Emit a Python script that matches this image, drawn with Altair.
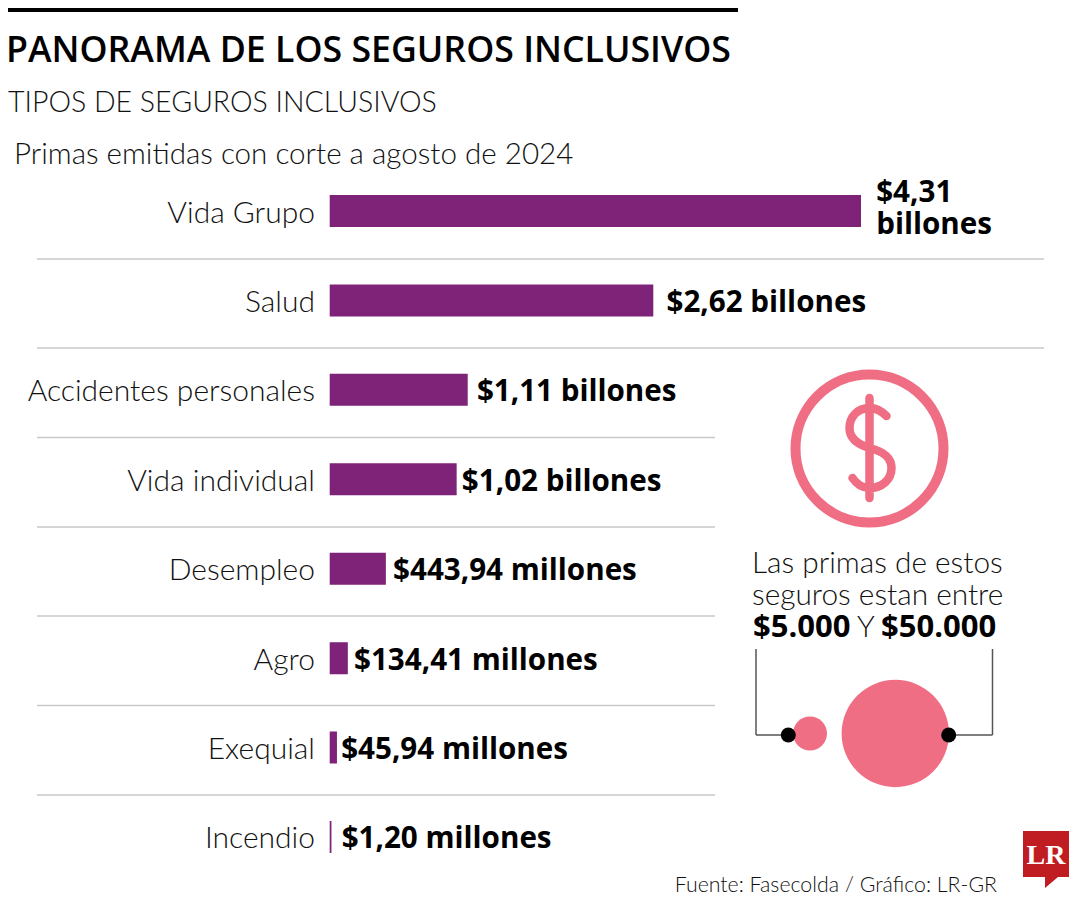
import altair as alt
import pandas as pd

CATEGORIES = ["Vida Grupo", "Salud", "Accidentes personales", "Vida individual",
              "Desempleo", "Agro", "Exequial", "Incendio"]
VALUES = [4.31, 2.62, 1.11, 1.02, 0.44394, 0.13441, 0.04594, 0.0012]  # billones
LABELS = ["$4,31\nbillones", "$2,62 billones", "$1,11 billones", "$1,02 billones",
          "$443,94 millones", "$134,41 millones", "$45,94 millones", "$1,20 millones"]
LABEL_GAPS = [16, 14, 10, 6, 8, 7, 5, 11]

PURPLE = "#7e2378"
PINK = "#ef6e84"
LIGHT = "Lato"
BOLD = "Open Sans"

df = pd.DataFrame({"cat": CATEGORIES, "val": VALUES, "label": LABELS, "gap": LABEL_GAPS})
blank = alt.Data(values=[{}])
OX = OY = 8  # page margin


def X(v):
    return alt.value(v - OX)


def Y(v):
    return alt.value(v - OY)


def txt(s, x, y, size, font=LIGHT, weight=300, align="left", color="#111111"):
    return alt.Chart(blank).mark_text(text=s, font=font, fontSize=size, fontWeight=weight,
                                      align=align, baseline="alphabetic", color=color).encode(x=X(x), y=Y(y))


def hline(x1, x2, y, color="#c9c9c9", w=1.5):
    return alt.Chart(blank).mark_rule(color=color, strokeWidth=w).encode(x=X(x1), x2=X(x2), y=Y(y))


def vline(x, y1, y2, color="#555555", w=1.5):
    return alt.Chart(blank).mark_rule(color=color, strokeWidth=w).encode(x=X(x), y=Y(y1), y2=Y(y2))


def dot(x, y, r, color):
    return alt.Chart(blank).mark_point(shape="circle", filled=True, opacity=1, color=color,
                                       strokeWidth=0, size=4 * r * r).encode(x=X(x), y=Y(y))


y_enc = alt.Y("cat:N", sort=CATEGORIES, axis=None,
              scale=alt.Scale(type="band", domain=CATEGORIES, range=[211 - 44.7 - OY, 837 + 44.7 - OY],
                              paddingInner=0, paddingOuter=0))
x_enc = alt.X("val:Q", axis=None, scale=alt.Scale(domain=[0, 4.31], range=[322.5, 852.2]))

bars = alt.Chart(df).mark_bar(color=PURPLE, stroke=PURPLE, strokeWidth=1.6, size=30.4).encode(x=x_enc, y=y_enc)
cats = alt.Chart(df).mark_text(align="right", baseline="middle", font=LIGHT, fontWeight=300, fontSize=30, dy=2.5,
                               color="#111111").encode(x=X(315), y=y_enc, text="cat:N")

value_layers = []
for row in df.to_dict("records"):
    value_layers.append(
        alt.Chart(alt.Data(values=[row])).mark_text(
            align="left", baseline="middle", font=BOLD, fontWeight=700, fontSize=29.6, dx=row["gap"],
            dy=-18 if "\n" in row["label"] else 2.5,
            lineBreak="\n", lineHeight=32, color="#000000").encode(x=x_enc, y=y_enc, text="label:N"))

dividers = [hline(37, 1044, 259), hline(37, 1044, 348)] + [hline(37, 715, y) for y in (437.5, 527, 616, 705.5, 795)]

dollar_path = ("M17,-32 C12,-37 7,-40 0,-40 C-12,-40 -20,-31 -20,-20 C-20,-8 -10,-3 0,0 "
               "C12,3 22,8 22,20 C22,32 12,40 0,40 C-7,40 -13,36 -17,30 M0,-50 L0,50")
logo_path = "M0,0 L46,0 L46,46 L35,46 L22,57 L22,46 L0,46 Z"

ring = alt.Chart(blank).mark_point(shape="circle", filled=False, opacity=1, color=PINK, strokeWidth=10,
                                   size=4 * 74 * 74).encode(x=X(869.5), y=Y(448.5))
dollar = alt.Chart(blank).mark_point(shape=dollar_path, filled=False, opacity=1, color=PINK, strokeWidth=8.5,
                                     strokeCap="round", size=4).encode(x=X(869.5), y=Y(448))
logo = alt.Chart(blank).mark_point(shape=logo_path, filled=True, opacity=1, color="#c01d22", strokeWidth=0,
                                   size=4).encode(x=X(1023), y=Y(831))

chart = alt.layer(
    hline(4, 738, 8, color="#000000", w=8),
    txt("PANORAMA DE LOS SEGUROS INCLUSIVOS", 6, 62, 35.7, font=BOLD, weight=600, color="#000000"),
    txt("TIPOS DE SEGUROS INCLUSIVOS", 8, 112, 28.5),
    txt("Primas emitidas con corte a agosto de 2024", 14, 164, 29.6),
    *dividers,
    bars, cats, *value_layers,
    ring, dollar,
    txt("Las primas de estos", 752, 573, 29.8),
    txt("seguros estan entre", 752, 605, 29.8),
    txt("$5.000", 753, 637, 31, font=BOLD, weight=700, color="#000000"),
    txt("Y", 857, 637, 29.8),
    txt("$50.000", 881, 637, 31, font=BOLD, weight=700, color="#000000"),
    vline(756, 649, 735), hline(756, 788, 735, color="#555555"),
    vline(992.5, 649, 735), hline(949, 992.5, 735, color="#555555"),
    dot(810, 733.5, 17, PINK), dot(895.3, 733.5, 53.7, PINK),
    dot(788.3, 735, 7.5, "#000000"), dot(948.7, 735, 7.5, "#000000"),
    txt("Fuente: Fasecolda / Gráfico: LR-GR", 997, 892, 21.3, align="right"),
    logo,
    txt("LR", 1046, 864, 28, font="Liberation Serif", weight=700, align="center", color="#ffffff"),
).properties(width=1064, height=884, padding=0, autosize=alt.AutoSizeParams(type="none")
).configure_view(stroke=None)

chart.save("out.html", embed_options={"renderer": "svg", "actions": False})
